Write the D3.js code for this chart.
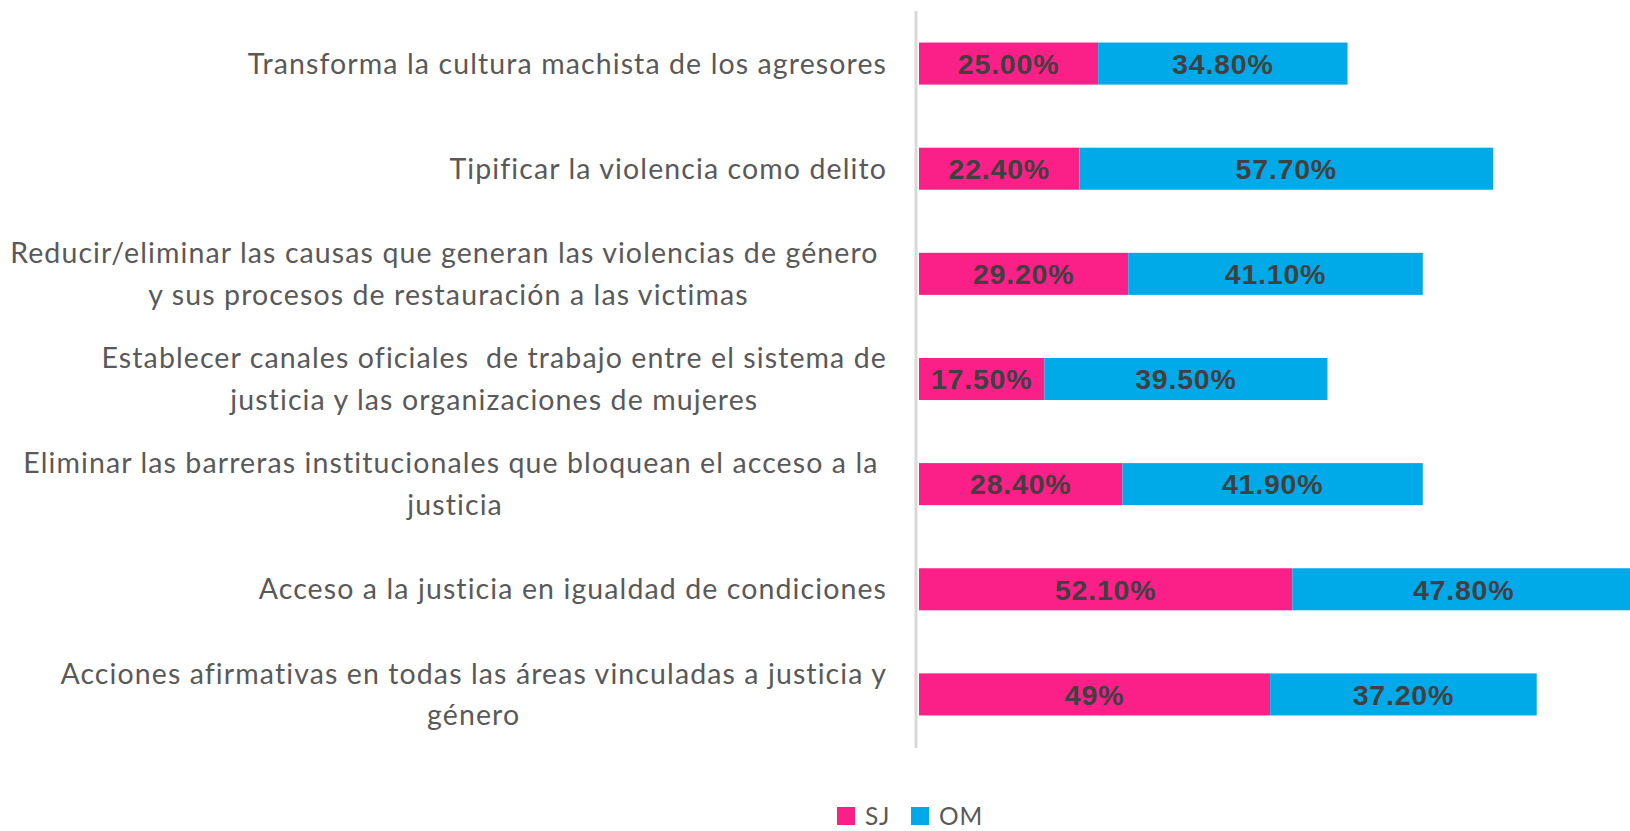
<!DOCTYPE html>
<html>
<head>
<meta charset="utf-8">
<script src="https://cdn.jsdelivr.net/npm/d3@7"></script>
<style>
  html, body { margin: 0; padding: 0; background: #fff; }
  svg { display: block; }
</style>
</head>
<body>
<svg id="chart" width="1630" height="831"></svg>
<script>
// ---- data ----
const categories = [
  "Transforma la cultura machista de los agresores",
  "Tipificar la violencia como delito",
  "Reducir/eliminar las causas que generan las violencias de género y sus procesos de restauración a las victimas",
  "Establecer canales oficiales  de trabajo entre el sistema de justicia y las organizaciones de mujeres",
  "Eliminar las barreras institucionales que bloquean el acceso a la justicia",
  "Acceso a la justicia en igualdad de condiciones",
  "Acciones afirmativas en todas las áreas vinculadas a justicia y género"
];
const categoryLines = [
  ["Transforma la cultura machista de los agresores"],
  ["Tipificar la violencia como delito"],
  ["Reducir/eliminar las causas que generan las violencias de género ", "y sus procesos de restauración a las victimas"],
  ["Establecer canales oficiales  de trabajo entre el sistema de", "justicia y las organizaciones de mujeres"],
  ["Eliminar las barreras institucionales que bloquean el acceso a la ", "justicia"],
  ["Acceso a la justicia en igualdad de condiciones"],
  ["Acciones afirmativas en todas las áreas vinculadas a justicia y", "género"]
];
const seriesNames = ["SJ", "OM"];
const sjValues = [25.0, 22.4, 29.2, 17.5, 28.4, 52.1, 49];
const omValues = [34.8, 57.7, 41.1, 39.5, 41.9, 47.8, 37.2];
const sjLabels = ["25.00%", "22.40%", "29.20%", "17.50%", "28.40%", "52.10%", "49%"];
const omLabels = ["34.80%", "57.70%", "41.10%", "39.50%", "41.90%", "47.80%", "37.20%"];
const colors = ["#FB1F88", "#00A9E8"];

// ---- layout ----
const svg = d3.select("#chart");
const x0 = 919, pxPerUnit = 7.166;
const x = d3.scaleLinear().domain([0, 100]).range([x0, x0 + 100 * pxPerUnit]);
const y = d3.scaleBand().domain(categories).range([11, 747]).paddingInner(0.6).paddingOuter(0.3);
const color = d3.scaleOrdinal().domain(seriesNames).range(colors);

const rows = categories.map((c, i) => ({
  cat: c, i,
  segs: [
    { s: "SJ", x0: 0, x1: sjValues[i], label: sjLabels[i] },
    { s: "OM", x0: sjValues[i], x1: sjValues[i] + omValues[i], label: omLabels[i] }
  ]
}));

const defs = svg.append("defs");
defs.append("clipPath").attr("id", "plotclip")
  .append("rect").attr("x", 0).attr("y", 0).attr("width", 1630).attr("height", 831);

const bars = svg.append("g").attr("clip-path", "url(#plotclip)");
rows.forEach(r => {
  r.segs.forEach(sg => {
    bars.append("rect")
      .attr("x", x(sg.x0))
      .attr("y", y(r.cat))
      .attr("width", x(sg.x1) - x(sg.x0))
      .attr("height", y.bandwidth())
      .attr("fill", color(sg.s));
    bars.append("text")
      .attr("x", (x(sg.x0) + x(sg.x1)) / 2)
      .attr("y", y(r.cat) + y.bandwidth() / 2)
      .attr("dy", "0.36em")
      .attr("text-anchor", "middle")
      .attr("font-family", "'Liberation Sans', Arial, sans-serif")
      .attr("font-weight", "bold")
      .attr("font-size", 28.5)
      .attr("letter-spacing", "0.8px")
      .attr("fill", "#404040")
      .text(sg.label);
  });
});

// axis line (category axis)
const yAxis = d3.axisLeft(y).tickSize(0).tickFormat("");
const axisG = svg.append("g").attr("transform", `translate(916,0)`).call(yAxis);
axisG.select(".domain").attr("stroke", "#d9d9d9").attr("stroke-width", 3)
  .attr("d", `M0,11V748`);

// category labels
const labelRight = 887;
const lineH = 41.6;
const labelFont = "Lato, 'Open Sans', sans-serif";
const labelG = svg.append("g");
categoryLines.forEach((lines, i) => {
  const cy = y(categories[i]) + y.bandwidth() / 2;
  const g = labelG.append("g");
  const texts = lines.map((ln, k) => g.append("text")
    .attr("font-family", labelFont)
    .attr("font-size", 28.5)
    .attr("letter-spacing", "1.1px")
    .attr("fill", "#595959")
    .style("white-space", "pre")
    .attr("text-anchor", "middle")
    .attr("y", cy + (k - (lines.length - 1) / 2) * lineH)
    .attr("dy", "0.35em")
    .text(ln));
  const maxW = d3.max(texts, t => t.node().getComputedTextLength());
  texts.forEach(t => t.attr("x", labelRight - maxW / 2));
});

// legend
const legend = svg.append("g");
const legendItems = [
  { s: "SJ", sq: 837, tx: 865 },
  { s: "OM", sq: 911, tx: 939 }
];
legendItems.forEach(it => {
  legend.append("rect").attr("x", it.sq).attr("y", 807).attr("width", 18).attr("height", 18)
    .attr("fill", color(it.s));
  legend.append("text").attr("x", it.tx).attr("y", 825)
    .attr("font-family", labelFont).attr("font-size", 24.5).attr("letter-spacing", "0.8px")
    .attr("fill", "#595959")
    .text(it.s);
});
</script>
</body>
</html>
